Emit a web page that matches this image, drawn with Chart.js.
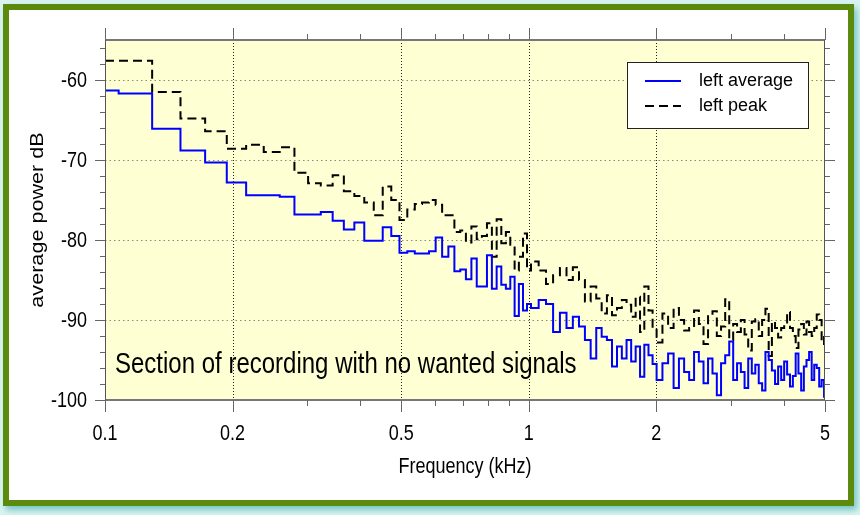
<!DOCTYPE html>
<html>
<head>
<meta charset="utf-8">
<script src="https://cdn.jsdelivr.net/npm/chart.js@4.4.0/dist/chart.umd.min.js"></script>
<style>
  html, body { margin: 0; padding: 0; }
  body { width: 860px; height: 515px; background: #d9f4f2; position: relative; overflow: hidden; }
  .marco {
    position: absolute; left: 3px; top: 4px; width: 851px; height: 502px;
    box-sizing: border-box; border: 6px solid #5c8a0c; background: #fff;
    box-shadow: 3px 4px 6px rgba(40, 160, 160, 0.55);
  }
  #espectro { position: absolute; left: 0; top: 0; }
</style>
</head>
<body>
<div class="marco"></div>
<canvas id="espectro" width="860" height="515"></canvas>
<script>
// Frecuencia de inicio de cada escalón (kHz)
const freqKHz = [
  0.1, 0.1077, 0.1292, 0.1507, 0.1723, 0.1938, 0.2153, 0.2369, 0.2584, 0.2799,
  0.3015, 0.3230, 0.3445, 0.3661, 0.3876, 0.4091, 0.4307, 0.4522, 0.4737, 0.4953,
  0.5168, 0.5383, 0.5599, 0.5814, 0.6029, 0.6245, 0.6460, 0.6675, 0.6891, 0.7106,
  0.7321, 0.7537, 0.7752, 0.7967, 0.8183, 0.8398, 0.8613, 0.8829, 0.9044, 0.9259,
  0.9475, 0.9690, 0.9905,
  1.0121, 1.0551, 1.0982, 1.1412, 1.1843, 1.2274, 1.2704, 1.3135, 1.3566, 1.3996,
  1.4427, 1.4858, 1.5288, 1.5719, 1.6150, 1.6580, 1.7011, 1.7442, 1.7872, 1.8303,
  1.8734, 1.9164, 1.9595,
  2.0026, 2.0672, 2.1318, 2.1964, 2.2610, 2.3256, 2.3902, 2.4548, 2.5194, 2.5840,
  2.6486, 2.7132, 2.7778, 2.8424, 2.9070, 2.9716, 3.0362, 3.1008, 3.1654, 3.2300,
  3.2945, 3.3591, 3.4237, 3.4883, 3.5529, 3.6175, 3.6821, 3.7467, 3.8113, 3.8759,
  3.9405, 4.0051, 4.0697, 4.1343, 4.1989, 4.2635, 4.3281, 4.3927, 4.4573, 4.5219,
  4.5865, 4.6511, 4.7157, 4.7803, 4.8449, 4.9095, 4.9741, 5.0
];

// Potencia media (dB)
const leftAverage = [
  -61.3, -61.7, -66.1, -68.8, -70.3, -72.8, -74.4, -74.4, -74.6, -76.8,
  -76.8, -76.5, -77.6, -78.7, -77.8, -80.1, -80.1, -78.4, -79.5, -81.6,
  -81.4, -81.7, -81.7, -81.4, -79.7, -82.1, -80.8, -83.9, -83.7, -84.9,
  -82.3, -85.8, -85.8, -81.9, -86.1, -83.3, -85.6, -86.1, -84.6, -89.5,
  -85.5, -88.8, -88.0,
  -88.5, -87.5, -88.0, -91.5, -89.1, -91.0, -89.6, -90.8, -92.5, -94.8,
  -91.0, -92.1, -92.5, -95.8, -93.3, -94.8, -92.5, -95.2, -93.3, -97.1,
  -93.1, -94.4, -95.5,
  -97.5, -95.4, -94.2, -98.5, -94.8, -96.5, -97.5, -94.0, -95.2, -97.9,
  -94.8, -96.7, -99.4, -95.4, -94.4, -92.7, -97.5, -95.4, -96.5, -98.5,
  -94.8, -96.7, -95.6, -97.9, -98.8, -94.0, -95.0, -96.3, -98.0, -95.8,
  -97.5, -95.2, -96.8, -98.3, -97.0, -94.2, -96.7, -98.8, -95.8, -95.0,
  -94.0, -97.5, -95.6, -96.0, -98.3, -97.5, -99.6, -99.6
];

// Potencia de pico (dB)
const leftPeak = [
  -57.6, -57.6, -61.5, -64.8, -66.4, -68.6, -68.1, -69.0, -68.4, -71.6,
  -72.9, -73.2, -71.9, -73.9, -74.5, -75.3, -76.9, -73.3, -75.0, -77.5,
  -76.2, -75.5, -75.3, -75.0, -75.6, -76.9, -76.9, -79.0, -78.8, -80.3,
  -78.3, -79.9, -79.5, -77.9, -82.1, -77.4, -80.4, -79.0, -80.6, -83.8,
  -82.1, -79.2, -83.8,
  -82.7, -83.8, -85.5, -84.4, -83.5, -85.0, -83.4, -85.0, -87.7, -85.8,
  -87.3, -89.2, -86.9, -89.4, -88.5, -87.5, -88.1, -89.6, -87.1, -91.5,
  -85.8, -88.8, -91.0,
  -92.8, -89.2, -91.0, -88.5, -90.0, -91.3, -91.0, -88.8, -90.5, -93.0,
  -89.4, -88.9, -92.0, -90.8, -87.4, -92.5, -90.5, -91.5, -90.0, -91.8,
  -93.8, -90.2, -89.9, -92.0, -90.0, -88.6, -94.5, -90.2, -91.0, -92.2,
  -91.0, -90.3, -89.0, -91.0, -92.0, -93.5, -91.2, -90.5, -91.8, -90.2,
  -91.5, -92.0, -91.0, -89.3, -90.0, -93.0, -91.5, -91.5
];

// Marcas de los ejes
const ticksX = [0.1, 0.2, 0.5, 1, 2, 5];
const ticksXMenores = [0.3, 0.4, 0.6, 0.7, 0.8, 0.9, 3, 4];
const ticksY = [-60, -70, -80, -90, -100];

const fuente = "'Liberation Sans', Arial, sans-serif";
const estiramiento = 1.2;  // el texto original es algo más alto que ancho

// Texto estirado en la dirección vertical de la página
function textoAlto(ctx, texto, x, y, alinear, base, girado) {
  ctx.save();
  ctx.translate(x, y);
  if (girado) {
    ctx.rotate(-Math.PI / 2);
    ctx.scale(estiramiento, 1);
  } else {
    ctx.scale(1, estiramiento);
  }
  ctx.textAlign = alinear;
  ctx.textBaseline = base;
  ctx.fillText(texto, 0, 0);
  ctx.restore();
}

// Dibuja fondo amarillo, rejilla punteada, marcas, textos y leyenda
const marcoGrafica = {
  id: 'marcoGrafica',
  beforeDatasetsDraw(chart) {
    const { ctx, chartArea: a, scales: { x, y } } = chart;
    ctx.save();
    ctx.fillStyle = '#ffffd4';
    ctx.fillRect(a.left, a.top, a.right - a.left, a.bottom - a.top);
    ctx.lineWidth = 1;
    ctx.strokeStyle = '#222';
    ctx.setLineDash([1, 2]);
    ticksX.forEach(v => {
      if (v <= x.min || v >= x.max) return;
      const px = Math.round(x.getPixelForValue(v)) + 0.5;
      ctx.beginPath(); ctx.moveTo(px, a.top); ctx.lineTo(px, a.bottom); ctx.stroke();
    });
    ctx.strokeStyle = '#8a8a80';
    ctx.setLineDash([1.5, 3]);
    ticksY.forEach(v => {
      if (v <= y.min || v >= y.max) return;
      const py = Math.round(y.getPixelForValue(v)) + 0.5;
      ctx.beginPath(); ctx.moveTo(a.left, py); ctx.lineTo(a.right, py); ctx.stroke();
    });
    ctx.restore();
  },
  afterDatasetsDraw(chart) {
    const { ctx, chartArea: a, scales: { x, y } } = chart;
    ctx.save();
    ctx.setLineDash([]);
    // bordes del área
    ctx.strokeStyle = '#777';
    ctx.lineWidth = 2;
    ctx.beginPath();
    ctx.moveTo(a.left, a.top); ctx.lineTo(a.right, a.top);
    ctx.moveTo(a.left, a.bottom); ctx.lineTo(a.right, a.bottom);
    ctx.stroke();
    ctx.lineWidth = 1;
    ctx.strokeStyle = '#555';
    ctx.beginPath();
    ctx.moveTo(a.left + 0.5, a.top); ctx.lineTo(a.left + 0.5, a.bottom);
    ctx.moveTo(a.right - 0.5, a.top); ctx.lineTo(a.right - 0.5, a.bottom);
    ctx.stroke();

    // marcas hacia fuera
    ctx.strokeStyle = '#666';
    ctx.beginPath();
    const marcaX = (v, largo) => {
      const px = Math.round(x.getPixelForValue(v)) + 0.5;
      ctx.moveTo(px, a.bottom); ctx.lineTo(px, a.bottom + largo);
      ctx.moveTo(px, a.top); ctx.lineTo(px, a.top - largo);
    };
    ticksX.forEach(v => marcaX(v, 12));
    ticksXMenores.forEach(v => marcaX(v, 6));
    const marcaY = (v, largo) => {
      const py = Math.round(y.getPixelForValue(v)) + 0.5;
      ctx.moveTo(a.left, py); ctx.lineTo(a.left - largo, py);
      ctx.moveTo(a.right, py); ctx.lineTo(a.right + largo, py);
    };
    for (let v = -98; v <= -56; v += 2) {
      marcaY(v, v % 10 === 0 ? 10 : 5);
    }
    marcaY(-100, 10);
    ctx.stroke();

    // etiquetas de los ejes
    ctx.fillStyle = '#000';
    ctx.font = '18px ' + fuente;
    ticksX.forEach(v => textoAlto(ctx, String(v), x.getPixelForValue(v), a.bottom + 34, 'center', 'middle'));
    ticksY.forEach(v => textoAlto(ctx, String(v), a.left - 18, y.getPixelForValue(v) + 1, 'right', 'middle'));
    textoAlto(ctx, 'Frequency (kHz)', (a.left + a.right) / 2, 467, 'center', 'middle');
    textoAlto(ctx, 'average power dB', 38, (a.top + a.bottom) / 2, 'center', 'middle', true);

    // nota dentro del gráfico
    ctx.font = '24px ' + fuente;
    textoAlto(ctx, 'Section of recording with no wanted signals', 115, 373, 'left', 'alphabetic');

    // leyenda
    const caja = { left: 627, top: 62, width: 182, height: 67 };
    ctx.fillStyle = '#fff';
    ctx.fillRect(caja.left, caja.top, caja.width, caja.height);
    ctx.strokeStyle = '#222';
    ctx.lineWidth = 1;
    ctx.strokeRect(caja.left + 0.5, caja.top + 0.5, caja.width - 1, caja.height - 1);
    ctx.font = '18px ' + fuente;
    ctx.textBaseline = 'middle';
    ctx.textAlign = 'left';
    chart.data.datasets.forEach((ds, i) => {
      const fy = caja.top + 19 + i * 25;
      ctx.strokeStyle = ds.borderColor;
      ctx.lineWidth = 2;
      ctx.setLineDash(ds.borderDash || []);
      ctx.beginPath(); ctx.moveTo(645, fy); ctx.lineTo(681, fy); ctx.stroke();
      ctx.setLineDash([]);
      ctx.fillStyle = '#000';
      ctx.fillText(ds.label, 699, fy);
    });
    ctx.restore();
  }
};

const espectroContext = document.getElementById('espectro').getContext('2d');
const espectroChart = new Chart(espectroContext, {
  type: 'line',
  data: {
    datasets: [
      {
        label: 'left average',
        data: freqKHz.map((f, i) => ({ x: f, y: leftAverage[i] })),
        borderColor: '#0000ff',
        borderWidth: 2,
        stepped: true,
        pointRadius: 0
      },
      {
        label: 'left peak',
        data: freqKHz.map((f, i) => ({ x: f, y: leftPeak[i] })),
        borderColor: '#000000',
        borderWidth: 2,
        borderDash: [9, 5],
        stepped: true,
        pointRadius: 0
      }
    ]
  },
  options: {
    responsive: false,
    animation: false,
    devicePixelRatio: 1,
    layout: { padding: { top: 40, right: 35, left: 0, bottom: 0 } },
    plugins: {
      legend: { display: false },
      tooltip: { enabled: false }
    },
    scales: {
      x: {
        type: 'logarithmic',
        min: 0.1,
        max: 5,
        afterBuildTicks: scale => { scale.ticks = ticksX.map(v => ({ value: v })); },
        afterFit: scale => { scale.height = 115; },
        ticks: { display: false },
        grid: { display: false, drawTicks: false },
        border: { display: false }
      },
      y: {
        min: -100,
        max: -55,
        afterBuildTicks: scale => { scale.ticks = ticksY.map(v => ({ value: v })); },
        afterFit: scale => { scale.width = 105; },
        ticks: { display: false },
        grid: { display: false, drawTicks: false },
        border: { display: false }
      }
    }
  },
  plugins: [marcoGrafica]
});
</script>
</body>
</html>
